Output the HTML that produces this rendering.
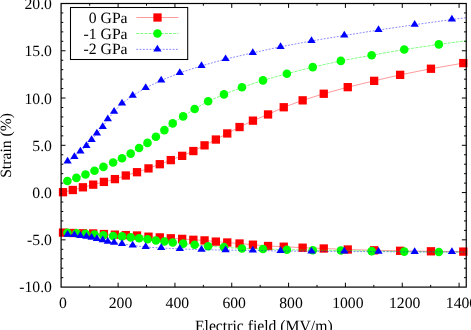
<!DOCTYPE html>
<html><head><meta charset="utf-8"><title>Strain vs electric field</title>
<style>
html,body{margin:0;padding:0;background:#fff;}
body{width:471px;height:330px;overflow:hidden;font-family:"Liberation Serif",serif;}
svg{display:block;}
svg text{font-family:"Liberation Serif",serif;font-size:15.7px;fill:#000;}
</style></head><body>
<svg width="471" height="330" viewBox="0 0 471 330">
<rect width="471" height="330" fill="#fff"/>
<path d="M61.1 277.65h2.2M466.25 277.65h-2.2M61.1 268.19h2.2M466.25 268.19h-2.2M61.1 258.74h2.2M466.25 258.74h-2.2M61.1 249.29h2.2M466.25 249.29h-2.2M61.1 239.83h4.4M466.25 239.83h-4.4M61.1 230.38h2.2M466.25 230.38h-2.2M61.1 220.93h2.2M466.25 220.93h-2.2M61.1 211.47h2.2M466.25 211.47h-2.2M61.1 202.02h2.2M466.25 202.02h-2.2M61.1 192.57h4.4M466.25 192.57h-4.4M61.1 183.11h2.2M466.25 183.11h-2.2M61.1 173.66h2.2M466.25 173.66h-2.2M61.1 164.21h2.2M466.25 164.21h-2.2M61.1 154.75h2.2M466.25 154.75h-2.2M61.1 145.3h4.4M466.25 145.3h-4.4M61.1 135.85h2.2M466.25 135.85h-2.2M61.1 126.39h2.2M466.25 126.39h-2.2M61.1 116.94h2.2M466.25 116.94h-2.2M61.1 107.49h2.2M466.25 107.49h-2.2M61.1 98.03h4.4M466.25 98.03h-4.4M61.1 88.58h2.2M466.25 88.58h-2.2M61.1 79.13h2.2M466.25 79.13h-2.2M61.1 69.67h2.2M466.25 69.67h-2.2M61.1 60.22h2.2M466.25 60.22h-2.2M61.1 50.77h4.4M466.25 50.77h-4.4M61.1 41.31h2.2M466.25 41.31h-2.2M61.1 31.86h2.2M466.25 31.86h-2.2M61.1 22.41h2.2M466.25 22.41h-2.2M61.1 12.95h2.2M466.25 12.95h-2.2M89.69 287.1v-2.2M89.69 3.5v2.2M118.11 287.1v-4.4M118.11 3.5v4.4M146.52 287.1v-2.2M146.52 3.5v2.2M174.94 287.1v-4.4M174.94 3.5v4.4M203.35 287.1v-2.2M203.35 3.5v2.2M231.76 287.1v-4.4M231.76 3.5v4.4M260.18 287.1v-2.2M260.18 3.5v2.2M288.59 287.1v-4.4M288.59 3.5v4.4M317.01 287.1v-2.2M317.01 3.5v2.2M345.42 287.1v-4.4M345.42 3.5v4.4M373.83 287.1v-2.2M373.83 3.5v2.2M402.25 287.1v-4.4M402.25 3.5v4.4M430.66 287.1v-2.2M430.66 3.5v2.2M459.08 287.1v-4.4M459.08 3.5v4.4" fill="none" stroke="#000" stroke-width="1"/>
<g fill="none" stroke-width="0.4">
<g stroke="#f00"><path d="M63 192.2 L72.8 190 L82.9 187.3 L93.2 184.65 L103.9 181.9 L114.9 179.1 L125.8 175.5 L137 172.2 L148.5 168.4 L159.8 164.2 L170.8 160.1 L182.15 155.85 L193.35 151.05 L204.55 145.35 L215.85 139.55 L227.25 133.45 L239.55 127.05 L252.95 120.65 L268.05 114.45 L283.75 107.25 L302.65 100.35 L323.75 93.75 L347.75 87.15 L374.15 80.85 L400.15 74.85 L430.95 68.75 L463.3 63.1 L466.25 62.6"/><path d="M63 232.6 L72.8 233 L82.9 233.3 L93.2 233.45 L103.9 234.05 L114.9 234.65 L125.8 235.1 L137 235.5 L148.5 236.7 L159.8 237.4 L170.8 238.3 L182.15 238.9 L193.35 239.8 L204.55 240.4 L215.85 241.6 L227.25 242.5 L239.55 243.5 L252.95 244.7 L268.05 246 L283.75 246.7 L302.65 247.7 L323.75 248.5 L347.75 249.5 L374.15 250.3 L400.15 250.8 L430.95 251.3 L463.3 251.6 L466.25 251.65"/><path d="M136.4 17.5H178.4"/></g>
<g fill="#f00" stroke="none"><rect x="58.85" y="188.05" width="8.3" height="8.3"/><rect x="68.65" y="185.85" width="8.3" height="8.3"/><rect x="78.75" y="183.15" width="8.3" height="8.3"/><rect x="89.05" y="180.5" width="8.3" height="8.3"/><rect x="99.75" y="177.75" width="8.3" height="8.3"/><rect x="110.75" y="174.95" width="8.3" height="8.3"/><rect x="121.65" y="171.35" width="8.3" height="8.3"/><rect x="132.85" y="168.05" width="8.3" height="8.3"/><rect x="144.35" y="164.25" width="8.3" height="8.3"/><rect x="155.65" y="160.05" width="8.3" height="8.3"/><rect x="166.65" y="155.95" width="8.3" height="8.3"/><rect x="178" y="151.7" width="8.3" height="8.3"/><rect x="189.2" y="146.9" width="8.3" height="8.3"/><rect x="200.4" y="141.2" width="8.3" height="8.3"/><rect x="211.7" y="135.4" width="8.3" height="8.3"/><rect x="223.1" y="129.3" width="8.3" height="8.3"/><rect x="235.4" y="122.9" width="8.3" height="8.3"/><rect x="248.8" y="116.5" width="8.3" height="8.3"/><rect x="263.9" y="110.3" width="8.3" height="8.3"/><rect x="279.6" y="103.1" width="8.3" height="8.3"/><rect x="298.5" y="96.2" width="8.3" height="8.3"/><rect x="319.6" y="89.6" width="8.3" height="8.3"/><rect x="343.6" y="83" width="8.3" height="8.3"/><rect x="370" y="76.7" width="8.3" height="8.3"/><rect x="396" y="70.7" width="8.3" height="8.3"/><rect x="426.8" y="64.6" width="8.3" height="8.3"/><rect x="459.15" y="58.95" width="8.3" height="8.3"/><rect x="58.85" y="228.45" width="8.3" height="8.3"/><rect x="68.65" y="228.85" width="8.3" height="8.3"/><rect x="78.75" y="229.15" width="8.3" height="8.3"/><rect x="89.05" y="229.3" width="8.3" height="8.3"/><rect x="99.75" y="229.9" width="8.3" height="8.3"/><rect x="110.75" y="230.5" width="8.3" height="8.3"/><rect x="121.65" y="230.95" width="8.3" height="8.3"/><rect x="132.85" y="231.35" width="8.3" height="8.3"/><rect x="144.35" y="232.55" width="8.3" height="8.3"/><rect x="155.65" y="233.25" width="8.3" height="8.3"/><rect x="166.65" y="234.15" width="8.3" height="8.3"/><rect x="178" y="234.75" width="8.3" height="8.3"/><rect x="189.2" y="235.65" width="8.3" height="8.3"/><rect x="200.4" y="236.25" width="8.3" height="8.3"/><rect x="211.7" y="237.45" width="8.3" height="8.3"/><rect x="223.1" y="238.35" width="8.3" height="8.3"/><rect x="235.4" y="239.35" width="8.3" height="8.3"/><rect x="248.8" y="240.55" width="8.3" height="8.3"/><rect x="263.9" y="241.85" width="8.3" height="8.3"/><rect x="279.6" y="242.55" width="8.3" height="8.3"/><rect x="298.5" y="243.55" width="8.3" height="8.3"/><rect x="319.6" y="244.35" width="8.3" height="8.3"/><rect x="343.6" y="245.35" width="8.3" height="8.3"/><rect x="370" y="246.15" width="8.3" height="8.3"/><rect x="396" y="246.65" width="8.3" height="8.3"/><rect x="426.8" y="247.15" width="8.3" height="8.3"/><rect x="459.15" y="247.45" width="8.3" height="8.3"/><rect x="153.35" y="13.35" width="8.3" height="8.3"/></g>
<g stroke="#0f0" stroke-width="0.5" stroke-dasharray="3 1.1"><path d="M67.4 181 L76.4 177.9 L85.5 174.5 L94.5 170.7 L103.4 166.9 L113.1 162.5 L122 158.2 L130.7 153.6 L139.1 148 L147.5 142.9 L155.9 136.8 L164.4 130.1 L172.7 123.4 L183.15 116.4 L194.65 109 L208.15 101.3 L223.95 94.4 L241.95 87.3 L262.95 80.4 L286.85 73.7 L312.75 67.1 L340.85 60.9 L371.65 55.2 L404.25 49.5 L438.85 44.4 L466.25 40.77"/><path d="M67.4 232.8 L76.4 233.25 L85.5 233.8 L94.5 234.6 L103.4 235.25 L113.1 235.95 L122 236.4 L130.7 237.4 L139.1 238.3 L147.5 239.2 L155.9 240.45 L164.4 241.45 L172.7 242.45 L183.15 243.65 L194.65 244.75 L208.15 246.25 L223.95 247.15 L241.95 248.55 L262.95 249 L286.85 249.7 L312.75 250.2 L340.85 250.5 L371.65 251.1 L404.25 251.6 L438.85 252 L466.25 252.1"/><path d="M136.2 33.5H178.4"/></g>
<g fill="#0f0" stroke="none"><circle cx="67.4" cy="181" r="4.3"/><circle cx="76.4" cy="177.9" r="4.3"/><circle cx="85.5" cy="174.5" r="4.3"/><circle cx="94.5" cy="170.7" r="4.3"/><circle cx="103.4" cy="166.9" r="4.3"/><circle cx="113.1" cy="162.5" r="4.3"/><circle cx="122" cy="158.2" r="4.3"/><circle cx="130.7" cy="153.6" r="4.3"/><circle cx="139.1" cy="148" r="4.3"/><circle cx="147.5" cy="142.9" r="4.3"/><circle cx="155.9" cy="136.8" r="4.3"/><circle cx="164.4" cy="130.1" r="4.3"/><circle cx="172.7" cy="123.4" r="4.3"/><circle cx="183.15" cy="116.4" r="4.3"/><circle cx="194.65" cy="109" r="4.3"/><circle cx="208.15" cy="101.3" r="4.3"/><circle cx="223.95" cy="94.4" r="4.3"/><circle cx="241.95" cy="87.3" r="4.3"/><circle cx="262.95" cy="80.4" r="4.3"/><circle cx="286.85" cy="73.7" r="4.3"/><circle cx="312.75" cy="67.1" r="4.3"/><circle cx="340.85" cy="60.9" r="4.3"/><circle cx="371.65" cy="55.2" r="4.3"/><circle cx="404.25" cy="49.5" r="4.3"/><circle cx="438.85" cy="44.4" r="4.3"/><circle cx="67.4" cy="232.8" r="4.3"/><circle cx="76.4" cy="233.25" r="4.3"/><circle cx="85.5" cy="233.8" r="4.3"/><circle cx="94.5" cy="234.6" r="4.3"/><circle cx="103.4" cy="235.25" r="4.3"/><circle cx="113.1" cy="235.95" r="4.3"/><circle cx="122" cy="236.4" r="4.3"/><circle cx="130.7" cy="237.4" r="4.3"/><circle cx="139.1" cy="238.3" r="4.3"/><circle cx="147.5" cy="239.2" r="4.3"/><circle cx="155.9" cy="240.45" r="4.3"/><circle cx="164.4" cy="241.45" r="4.3"/><circle cx="172.7" cy="242.45" r="4.3"/><circle cx="183.15" cy="243.65" r="4.3"/><circle cx="194.65" cy="244.75" r="4.3"/><circle cx="208.15" cy="246.25" r="4.3"/><circle cx="223.95" cy="247.15" r="4.3"/><circle cx="241.95" cy="248.55" r="4.3"/><circle cx="262.95" cy="249" r="4.3"/><circle cx="286.85" cy="249.7" r="4.3"/><circle cx="312.75" cy="250.2" r="4.3"/><circle cx="340.85" cy="250.5" r="4.3"/><circle cx="371.65" cy="251.1" r="4.3"/><circle cx="404.25" cy="251.6" r="4.3"/><circle cx="438.85" cy="252" r="4.3"/><circle cx="157.45" cy="33.5" r="4.3"/></g>
<g stroke="#00f" stroke-width="0.47" stroke-dasharray="1.85 1.45"><path d="M67.6 161.5 L74.4 156.85 L80.4 151.35 L86.4 145.95 L91.6 139.85 L96.9 133.45 L102.7 126.85 L107.8 119.25 L114.1 111.6 L122 103.5 L132.7 95.7 L145.7 87.85 L161.2 80.4 L179.8 72.8 L201.5 65.8 L225.6 59.05 L252.8 52.85 L280.55 46.8 L311.5 40.9 L344.3 35.5 L378.5 30 L414.65 24.7 L451.9 19.5 L466.25 17.7"/><path d="M67.6 234.6 L74.4 235.05 L80.4 236 L86.4 236.7 L91.6 237.7 L96.9 238.8 L102.7 240.25 L107.8 241.7 L114.1 242.75 L122 243.8 L132.7 245.4 L145.7 247 L161.2 248 L179.8 248.9 L201.5 249.7 L225.6 250.1 L252.8 250.5 L280.55 251 L311.5 251.3 L344.3 251.5 L378.5 251.7 L414.65 251.9 L451.9 252 L466.25 252.05"/><path d="M136.3 49.35H177.8"/></g>
<g fill="#00f" stroke="none"><path d="M67.6 156.85L63.45 163.57L71.75 163.57Z"/><path d="M74.4 152.2L70.25 158.92L78.55 158.92Z"/><path d="M80.4 146.7L76.25 153.42L84.55 153.42Z"/><path d="M86.4 141.3L82.25 148.02L90.55 148.02Z"/><path d="M91.6 135.2L87.45 141.92L95.75 141.92Z"/><path d="M96.9 128.8L92.75 135.52L101.05 135.52Z"/><path d="M102.7 122.2L98.55 128.92L106.85 128.92Z"/><path d="M107.8 114.6L103.65 121.33L111.95 121.33Z"/><path d="M114.1 106.95L109.95 113.67L118.25 113.67Z"/><path d="M122 98.85L117.85 105.58L126.15 105.58Z"/><path d="M132.7 91.05L128.55 97.78L136.85 97.78Z"/><path d="M145.7 83.2L141.55 89.92L149.85 89.92Z"/><path d="M161.2 75.75L157.05 82.48L165.35 82.48Z"/><path d="M179.8 68.15L175.65 74.88L183.95 74.88Z"/><path d="M201.5 61.15L197.35 67.88L205.65 67.88Z"/><path d="M225.6 54.4L221.45 61.12L229.75 61.12Z"/><path d="M252.8 48.2L248.65 54.93L256.95 54.93Z"/><path d="M280.55 42.15L276.4 48.88L284.7 48.88Z"/><path d="M311.5 36.25L307.35 42.98L315.65 42.98Z"/><path d="M344.3 30.85L340.15 37.58L348.45 37.58Z"/><path d="M378.5 25.35L374.35 32.08L382.65 32.08Z"/><path d="M414.65 20.05L410.5 26.77L418.8 26.77Z"/><path d="M451.9 14.85L447.75 21.57L456.05 21.57Z"/><path d="M67.6 229.95L63.45 236.67L71.75 236.67Z"/><path d="M74.4 230.4L70.25 237.12L78.55 237.12Z"/><path d="M80.4 231.35L76.25 238.07L84.55 238.07Z"/><path d="M86.4 232.05L82.25 238.77L90.55 238.77Z"/><path d="M91.6 233.05L87.45 239.77L95.75 239.77Z"/><path d="M96.9 234.15L92.75 240.88L101.05 240.88Z"/><path d="M102.7 235.6L98.55 242.32L106.85 242.32Z"/><path d="M107.8 237.05L103.65 243.77L111.95 243.77Z"/><path d="M114.1 238.1L109.95 244.82L118.25 244.82Z"/><path d="M122 239.15L117.85 245.88L126.15 245.88Z"/><path d="M132.7 240.75L128.55 247.47L136.85 247.47Z"/><path d="M145.7 242.35L141.55 249.07L149.85 249.07Z"/><path d="M161.2 243.35L157.05 250.07L165.35 250.07Z"/><path d="M179.8 244.25L175.65 250.97L183.95 250.97Z"/><path d="M201.5 245.05L197.35 251.77L205.65 251.77Z"/><path d="M225.6 245.45L221.45 252.17L229.75 252.17Z"/><path d="M252.8 245.85L248.65 252.57L256.95 252.57Z"/><path d="M280.55 246.35L276.4 253.07L284.7 253.07Z"/><path d="M311.5 246.65L307.35 253.38L315.65 253.38Z"/><path d="M344.3 246.85L340.15 253.57L348.45 253.57Z"/><path d="M378.5 247.05L374.35 253.77L382.65 253.77Z"/><path d="M414.65 247.25L410.5 253.97L418.8 253.97Z"/><path d="M451.9 247.35L447.75 254.07L456.05 254.07Z"/><path d="M157.4 44.65L153.25 51.38L161.55 51.38Z"/></g>
</g>
<rect x="61.1" y="3.5" width="405.15" height="283.6" fill="none" stroke="#000" stroke-width="1.2"/>
<rect x="70.5" y="7.5" width="117.2" height="52" fill="none" stroke="#000" stroke-width="1.05"/>
<g style="will-change:transform;text-rendering:geometricPrecision">
<text x="127.6" y="22.8" text-anchor="end">0 GPa</text>
<text x="127.6" y="38.5" text-anchor="end">-1 GPa</text>
<text x="127.6" y="54.3" text-anchor="end">-2 GPa</text>
<text x="51.95" y="292.3" text-anchor="end">-10.0</text>
<text x="51.95" y="245.13" text-anchor="end">-5.0</text>
<text x="51.95" y="197.97" text-anchor="end">0.0</text>
<text x="51.95" y="150.8" text-anchor="end">5.0</text>
<text x="51.95" y="103.63" text-anchor="end">10.0</text>
<text x="51.95" y="56.47" text-anchor="end">15.0</text>
<text x="51.95" y="9.3" text-anchor="end">20.0</text>
<text x="62.98" y="307.8" text-anchor="middle">0</text>
<text x="120.51" y="307.8" text-anchor="middle">200</text>
<text x="177.34" y="307.8" text-anchor="middle">400</text>
<text x="234.16" y="307.8" text-anchor="middle">600</text>
<text x="290.99" y="307.8" text-anchor="middle">800</text>
<text x="347.82" y="307.8" text-anchor="middle">1000</text>
<text x="404.65" y="307.8" text-anchor="middle">1200</text>
<text x="461.48" y="307.8" text-anchor="middle">1400</text>
<text x="263.8" y="331.1" text-anchor="middle">Electric field (MV/m)</text>
<text transform="translate(11.05 145.4) rotate(-90)" text-anchor="middle">Strain (%)</text>
</g>
</svg>
</body></html>
